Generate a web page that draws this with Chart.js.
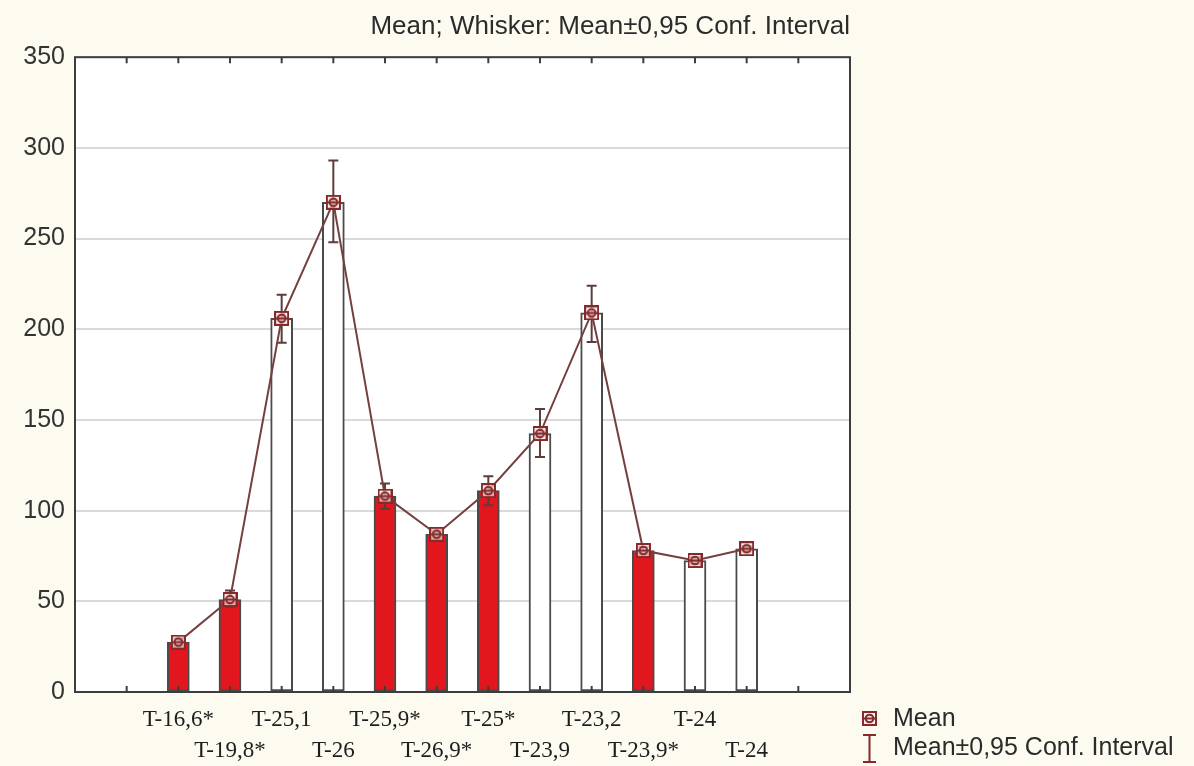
<!DOCTYPE html>
<html>
<head>
<meta charset="utf-8">
<script src="https://cdn.jsdelivr.net/npm/chart.js@4.4.1/dist/chart.umd.min.js"></script>
<style>
  html, body { margin: 0; padding: 0; background: #fdfaf0; }
  #wrap { width: 1194px; height: 766px; position: relative; }
</style>
</head>
<body>
<div id="wrap"><canvas id="c" width="1194" height="766"></canvas></div>
<script>
// ---- data ----
const categories = ['T-16,6*', 'T-19,8*', 'T-25,1', 'T-26', 'T-25,9*', 'T-26,9*', 'T-25*', 'T-23,9', 'T-23,2', 'T-23,9*', 'T-24', 'T-24'];
const means  = [27.5, 51, 206, 270, 108, 87, 111, 142.5, 209, 78, 72.5, 79];
const ciLow  = [25.5, 47, 192.5, 248, 101, 84.5, 103, 129.5, 193, 76, 70.5, 77.5];
const ciHigh = [29.5, 56, 219, 293, 115, 90, 119, 156, 224, 80, 74.5, 80.5];
const yTicks = [0, 50, 100, 150, 200, 250, 300, 350];
const titleText = 'Mean; Whisker: Mean\u00b10,95 Conf. Interval';
const legendMean = 'Mean';
const legendCI = 'Mean\u00b10,95 Conf. Interval';

// ---- build library structures ----
const PAD = 2; // empty category slots on each side (edge + empty tick)
const labels = [];
for (let i = 0; i < PAD; i++) labels.push('');
categories.forEach((c, i) => labels.push(i % 2 === 0 ? [c, ''] : ['', c]));
for (let i = 0; i < PAD; i++) labels.push('');
const padArr = arr => [...Array(PAD).fill(null), ...arr, ...Array(PAD).fill(null)];
const barData = padArr(means);
const lowData = padArr(ciLow);
const highData = padArr(ciHigh);
const barFill = padArr(categories.map(c => c.endsWith('*') ? '#e2161d' : '#ffffff'));

const MAROON = '#852a2a';
const LINE = '#74403f';

function meanIcon() {
  const cv = document.createElement('canvas');
  cv.width = 15; cv.height = 15;
  const g = cv.getContext('2d');
  g.fillStyle = 'rgba(255,230,230,0.7)';
  g.fillRect(1, 1, 13, 13);
  g.strokeStyle = MAROON; g.lineWidth = 2;
  g.strokeRect(1, 1, 13, 13);
  g.beginPath(); g.arc(7.5, 7.5, 3.8, 0, Math.PI * 2); g.stroke();
  g.beginPath(); g.moveTo(2, 7.5); g.lineTo(13, 7.5); g.stroke();
  return cv;
}
const ICON = meanIcon();

const plotBg = {
  id: 'plotBg',
  beforeDraw(chart) {
    const { ctx, chartArea: a } = chart;
    ctx.save(); ctx.fillStyle = '#ffffff';
    ctx.fillRect(a.left, a.top, a.right - a.left, a.bottom - a.top);
    ctx.restore();
  }
};

const whiskers = {
  id: 'whiskers',
  afterDatasetDraw(chart, args) {
    if (args.meta.type !== 'bar') return;
    const { ctx } = chart;
    const xs = chart.scales.x, ys = chart.scales.y;
    ctx.save();
    ctx.strokeStyle = '#5e3c3c'; ctx.lineWidth = 2;
    for (let i = 0; i < labels.length; i++) {
      if (lowData[i] == null) continue;
      const x = xs.getPixelForValue(i);
      const y1 = ys.getPixelForValue(lowData[i]);
      const y2 = ys.getPixelForValue(highData[i]);
      ctx.beginPath();
      ctx.moveTo(x, y1); ctx.lineTo(x, y2);
      ctx.moveTo(x - 5, y1); ctx.lineTo(x + 5, y1);
      ctx.moveTo(x - 5, y2); ctx.lineTo(x + 5, y2);
      ctx.stroke();
    }
    ctx.restore();
  }
};

const frame = {
  id: 'frame',
  afterDraw(chart) {
    const { ctx, chartArea: a } = chart;
    const xs = chart.scales.x;
    ctx.save();
    ctx.strokeStyle = '#3d3d3d'; ctx.lineWidth = 2;
    ctx.strokeRect(a.left, a.top, a.right - a.left, a.bottom - a.top);
    ctx.beginPath();
    for (let i = 1; i < labels.length - 1; i++) {
      const x = xs.getPixelForValue(i);
      ctx.moveTo(x, a.top); ctx.lineTo(x, a.top + 6);
      ctx.moveTo(x, a.bottom); ctx.lineTo(x, a.bottom - 6);
    }
    ctx.stroke();
    // legend
    const lx = a.right + 12;
    const y1 = a.bottom + 27, y2 = a.bottom + 56;
    ctx.drawImage(ICON, lx, y1 - 8);
    ctx.strokeStyle = MAROON; ctx.lineWidth = 2;
    ctx.beginPath();
    ctx.moveTo(lx + 7.5, y2 - 13); ctx.lineTo(lx + 7.5, y2 + 14);
    ctx.moveTo(lx + 1, y2 - 13); ctx.lineTo(lx + 14, y2 - 13);
    ctx.moveTo(lx + 1, y2 + 14); ctx.lineTo(lx + 14, y2 + 14);
    ctx.stroke();
    ctx.fillStyle = '#2b2b2b';
    ctx.font = '25px "Liberation Sans", Arial, sans-serif';
    ctx.textBaseline = 'middle';
    ctx.fillText(legendMean, lx + 31, y1);
    ctx.fillText(legendCI, lx + 31, y2);
    ctx.restore();
  }
};

new Chart(document.getElementById('c'), {
  data: {
    labels: labels,
    datasets: [
      {
        type: 'line',
        label: legendMean,
        data: barData,
        borderColor: LINE,
        borderWidth: 2,
        pointStyle: ICON,
        pointRadius: 7,
        tension: 0,
        order: 1
      },
      {
        type: 'bar',
        label: 'bars',
        data: barData,
        backgroundColor: barFill,
        borderColor: '#4a4a4a',
        borderWidth: 2,
        borderSkipped: false,
        barThickness: 22,
        order: 2
      }
    ]
  },
  options: {
    responsive: false,
    animation: false,
    events: [],
    layout: { padding: { left: 0, right: 344, top: 0, bottom: 0 } },
    plugins: {
      legend: { display: false },
      tooltip: { enabled: false },
      title: {
        display: true,
        text: titleText,
        align: 'end',
        color: '#2b2b2b',
        font: { family: '"Liberation Sans", Arial, sans-serif', size: 26, weight: 'normal', lineHeight: 1.2 },
        padding: { top: 11, bottom: 15 }
      }
    },
    scales: {
      x: {
        type: 'category',
        offset: false,
        grid: { display: false, drawTicks: false },
        border: { display: false },
        ticks: {
          autoSkip: false, maxRotation: 0, minRotation: 0,
          color: '#1e1e1e', padding: 12,
          font: { family: '"Liberation Serif", "Times New Roman", serif', size: 23, lineHeight: 1.35 }
        },
        afterFit(s) { s.height = 74; }
      },
      y: {
        min: 0, max: 350,
        afterBuildTicks(s) { s.ticks = yTicks.map(v => ({ value: v })); },
        grid: { color: '#dadada', lineWidth: 2, drawTicks: false },
        border: { display: false },
        ticks: {
          color: '#333333', padding: 10,
          font: { family: '"Liberation Sans", Arial, sans-serif', size: 25 }
        },
        afterFit(s) { s.width = 75; }
      }
    }
  },
  plugins: [plotBg, whiskers, frame]
});
</script>
</body>
</html>
